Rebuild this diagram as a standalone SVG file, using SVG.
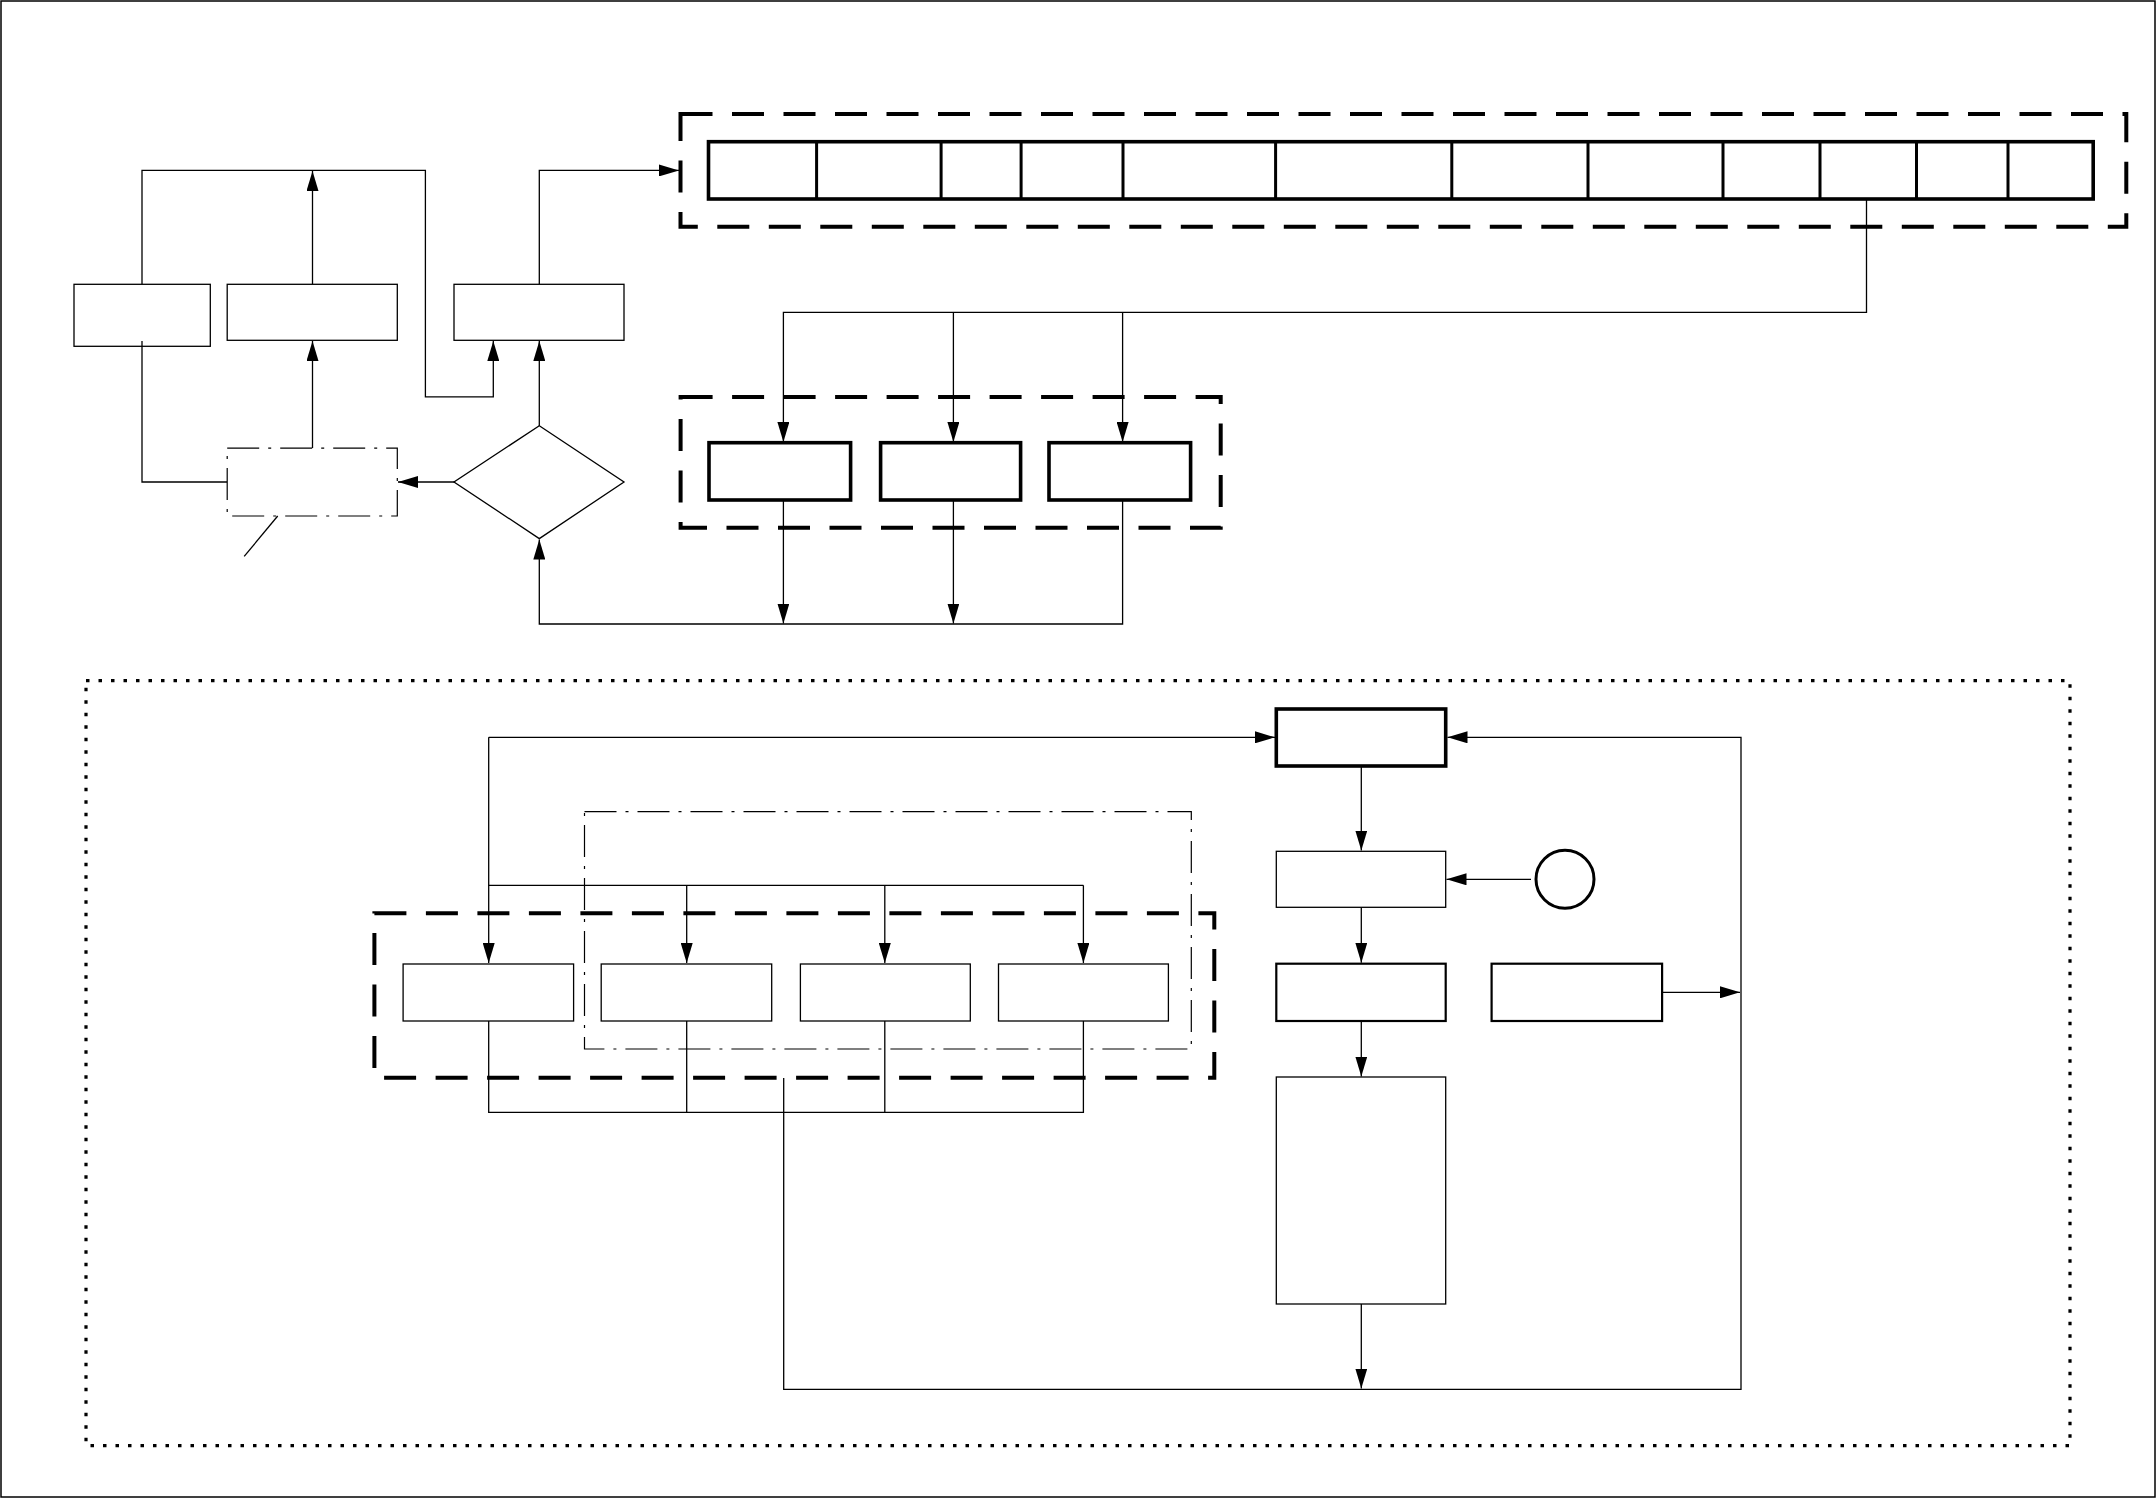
<svg xmlns="http://www.w3.org/2000/svg" width="2156" height="1498" viewBox="0 0 2156 1498">
<style>
.thin{fill:#fff;stroke:#000;stroke-width:1.3}
.med{fill:#fff;stroke:#000;stroke-width:2.2}
.thick{fill:#fff;stroke:#000;stroke-width:3.6}
.dash{fill:none;stroke:#000;stroke-width:4;stroke-dasharray:32 19.5}
.dot{fill:none;stroke:#000;stroke-width:3.2;stroke-dasharray:3.5 9}
.dashdot{fill:none;stroke:#000;stroke-width:1.2;stroke-dasharray:32 9 3 9}
.c{fill:none;stroke:#000;stroke-width:1.3}
.a{fill:none;stroke:#000;stroke-width:1.3;marker-end:url(#arr)}
</style>
<defs>
<marker id="arr" markerUnits="userSpaceOnUse" markerWidth="21" markerHeight="12" refX="20" refY="6" orient="auto">
<path d="M0,0 L20,6 L0,12 z" fill="#000"/>
</marker>
</defs>
<rect x="0" y="0" width="2156" height="1498" fill="#fff"/>
<rect x="1" y="1" width="2154" height="1496" fill="none" stroke="#000" stroke-width="1.5"/>

<g id="containers">
<rect id="group-top" class="dash" x="680.5" y="114" width="1445.8" height="112.7"/>
<rect id="group-mid" class="dash" x="680.6" y="397" width="540.1" height="130.7"/>
<rect id="group-outer" class="dot" x="86" y="680.7" width="1984" height="765"/>
<rect id="group-dashdot" class="dashdot" x="584.5" y="811.7" width="606.8" height="237.3"/>
<rect id="group-low" class="dash" x="374.4" y="913.3" width="839.9" height="164.4"/>
</g>

<g id="connectors">
<path class="a" d="M142,284 V170.4 H425.4 V396.8 H493.3 V341"/>
<path class="a" d="M312.5,284 V171"/>
<path class="a" d="M312.5,448 V341"/>
<path class="c" d="M142,341 V482 H227"/>
<path class="a" d="M454,482 H398"/>
<path class="a" d="M539.3,426 V341"/>
<path class="a" d="M539.3,284 V170.4 H679"/>
<path class="a" d="M1122.6,500 V624 H539.3 V539.5"/>
<path class="a" d="M783.4,500 V623.5"/>
<path class="a" d="M953.4,500 V623.5"/>
<path class="a" d="M1866.5,199 V312.3 H783.4 V442"/>
<path class="a" d="M953.4,312.3 V442"/>
<path class="a" d="M1122.6,312.3 V442"/>
<path class="c" d="M277.7,516 L244.2,556.4"/>

<path class="a" d="M783.7,1078 V1389.3 H1741 V737.3 H1447.5"/>
<path class="a" d="M488.7,737.3 H1275"/>
<path class="a" d="M488.7,737.3 V963"/>
<path class="c" d="M488.7,885.3 H1083.4"/>
<path class="a" d="M686.7,885.3 V963"/>
<path class="a" d="M884.8,885.3 V963"/>
<path class="a" d="M1083.4,885.3 V963"/>
<path class="c" d="M488.7,1021 V1112.3 H1083.4 V1021 M686.7,1021 V1112.3 M884.8,1021 V1112.3"/>
<path class="a" d="M1361.3,766 V850.5"/>
<path class="a" d="M1531,879.3 H1446.5"/>
<path class="a" d="M1361.3,907.3 V962.7"/>
<path class="a" d="M1662.1,992.3 H1740"/>
<path class="a" d="M1361.3,1021 V1076.5"/>
<path class="a" d="M1361.3,1304 V1388.5"/>
</g>

<g id="node-a"><rect class="thin" x="74" y="284.3" width="136.3" height="62"/></g>
<path class="c" d="M142,341 V346"/>
<g id="node-b"><rect class="thin" x="227.2" y="284.3" width="170.1" height="56"/></g>
<g id="node-c"><rect class="thin" x="454" y="284.3" width="170" height="56"/></g>
<g id="node-d"><rect class="dashdot" x="227.2" y="448.2" width="170.1" height="67.8" stroke-dasharray="38 12 3 12"/></g>
<g id="node-decision"><polygon class="thin" points="539.3,425.7 624,482 539.3,538.6 454,482"/></g>

<g id="node-strip">
<rect class="thick" x="708.5" y="141.7" width="1384.7" height="57.3" stroke-width="3"/>
<path d="M816.6,141.7 V199 M941.1,141.7 V199 M1021.1,141.7 V199 M1123,141.7 V199 M1275.6,141.7 V199 M1451.8,141.7 V199 M1588,141.7 V199 M1723,141.7 V199 M1820,141.7 V199 M1916.5,141.7 V199 M2008,141.7 V199" stroke="#000" stroke-width="3" fill="none"/>
</g>

<g id="node-m1"><rect class="thick" x="709" y="442.7" width="141.6" height="57.3"/></g>
<g id="node-m2"><rect class="thick" x="880.6" y="442.7" width="140" height="57.3"/></g>
<g id="node-m3"><rect class="thick" x="1049" y="442.7" width="141.6" height="57.3"/></g>

<g id="node-l1"><rect class="thin" x="403.1" y="964" width="170.5" height="57"/></g>
<g id="node-l2"><rect class="thin" x="601.2" y="964" width="170.5" height="57"/></g>
<g id="node-l3"><rect class="thin" x="800.4" y="964" width="169.9" height="57"/></g>
<g id="node-l4"><rect class="thin" x="998.5" y="964" width="169.9" height="57"/></g>

<g id="node-e"><rect class="thick" x="1276.3" y="709" width="169.4" height="57"/></g>
<g id="node-f"><rect class="thin" x="1276.3" y="851.3" width="169.4" height="56"/></g>
<g id="node-circle"><circle cx="1565" cy="879.3" r="29" fill="#fff" stroke="#000" stroke-width="3"/></g>
<g id="node-g"><rect class="med" x="1276.3" y="963.7" width="169.4" height="57.3"/></g>
<g id="node-h"><rect class="med" x="1491.6" y="963.7" width="170.5" height="57.3"/></g>
<g id="node-i"><rect class="thin" x="1276.3" y="1077" width="169.4" height="227"/></g>
</svg>
